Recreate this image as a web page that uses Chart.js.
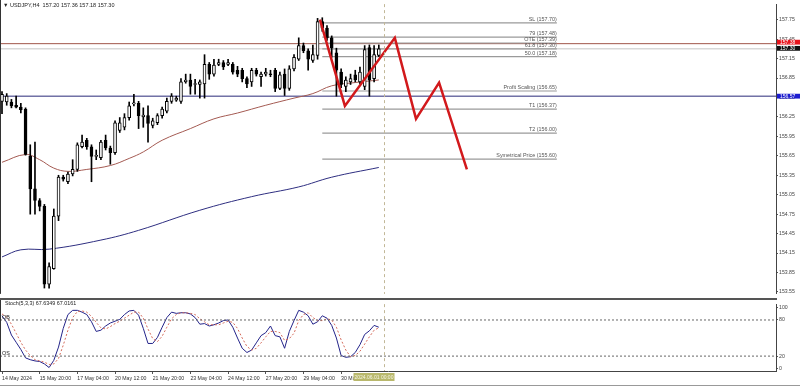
<!DOCTYPE html>
<html>
<head>
<meta charset="utf-8">
<script src="https://cdn.jsdelivr.net/npm/chart.js@4.4.1/dist/chart.umd.min.js"></script>
<style>
  html, body { margin: 0; padding: 0; background: #fff; }
  #wrap { position: relative; width: 800px; height: 387px; overflow: hidden; background: #fff; }
  #priceBox { position: absolute; left: 0; top: 0; width: 800px; height: 298px; }
  #stochBox { position: absolute; left: 0; top: 300px; width: 800px; height: 85px; }
  #sep { position: absolute; left: 0; top: 298px; width: 777px; height: 2px; background: #555; }
  #tabs { position: absolute; left: 0; top: 385px; width: 800px; height: 1px; background: #999; }
</style>
</head>
<body>
<div id="wrap">
  <div id="priceBox"><canvas id="price"></canvas></div>
  <div id="sep"></div>
  <div id="stochBox"><canvas id="stoch"></canvas></div>
  <div id="tabs"></div>
</div>
<script>
// H4 candles, bar 0 = 14 May 12:00, bar 80 = 31 May 20:00
const opens  = [156.49,156.48,156.48,156.43,156.40,156.37,155.64,155.14,154.96,154.87,153.67,153.91,154.72,155.32,155.25,155.37,155.44,155.79,155.89,155.79,155.64,155.62,155.89,155.77,155.70,156.04,156.09,156.24,156.45,156.46,156.25,156.27,156.12,156.16,156.27,156.34,156.49,156.51,156.49,156.79,156.82,156.75,156.75,156.76,157.06,156.91,157.06,157.09,157.06,157.06,156.97,156.97,156.84,156.79,156.97,156.87,156.91,156.91,156.97,156.69,156.91,156.69,156.99,157.14,157.35,157.27,157.12,157.20,157.72,157.62,157.47,157.24,156.94,156.72,156.79,156.90,156.79,156.72,157.32,156.84,157.20];
const highs  = [156.64,156.61,156.52,156.57,156.46,156.39,155.82,155.86,154.99,154.90,154.00,154.83,155.35,155.35,155.40,155.59,155.85,155.97,155.92,155.82,155.74,155.89,155.97,155.80,156.19,156.24,156.30,156.48,156.60,156.49,156.39,156.42,156.23,156.30,156.40,156.54,156.61,156.57,156.84,156.91,156.91,156.83,156.82,157.21,157.09,157.14,157.14,157.12,157.14,157.09,157.03,157.00,156.87,157.00,157.00,156.94,157.00,156.97,157.00,156.94,156.99,157.04,157.21,157.47,157.39,157.30,157.36,157.77,157.78,157.66,157.50,157.31,156.99,156.87,156.91,156.97,157.02,157.35,157.36,157.35,157.36];
const lows   = [156.30,156.43,156.39,156.39,156.31,155.66,154.75,154.75,154.80,153.61,153.61,153.90,154.65,155.26,155.22,155.34,155.41,155.77,155.75,155.25,155.59,155.59,155.74,155.52,155.67,156.01,156.05,156.20,156.42,156.07,156.09,155.86,156.08,156.13,156.23,156.31,156.46,156.49,156.46,156.77,156.60,156.60,156.54,156.54,156.83,156.88,157.04,156.98,157.04,156.91,156.87,156.79,156.70,156.72,156.88,156.72,156.88,156.87,156.64,156.67,156.58,156.66,156.96,157.12,157.24,156.97,157.09,157.14,157.57,157.43,157.17,156.57,156.70,156.64,156.75,156.79,156.76,156.67,156.57,156.79,157.18];
const closes = [156.60,156.57,156.42,156.40,156.36,155.67,155.14,154.96,154.87,153.67,153.94,154.72,155.32,155.29,155.37,155.44,155.82,155.86,155.79,155.64,155.65,155.86,155.77,155.70,156.16,156.16,156.24,156.42,156.46,156.27,156.28,156.15,156.19,156.27,156.37,156.49,156.57,156.54,156.79,156.82,156.72,156.76,156.79,157.06,156.91,157.05,157.09,157.02,157.09,156.94,156.91,156.84,156.76,156.97,156.91,156.91,156.94,156.90,156.69,156.90,156.69,156.99,157.17,157.35,157.27,157.14,157.21,157.72,157.62,157.47,157.32,156.97,156.75,156.82,156.84,156.82,156.94,157.29,156.82,157.21,157.30];

// moving averages, read at a few bars
const ma1Idx = [0, 5, 8, 11, 14, 18, 23, 27, 30, 34, 40, 45, 50, 56, 62, 66, 70, 75, 80];
const ma1Val = [155.55,155.67,155.59,155.46,155.41,155.44,155.50,155.61,155.71,155.89,156.07,156.22,156.31,156.43,156.54,156.61,156.73,156.78,156.82];
const ma2Idx = [0, 4, 10, 21, 29, 42, 53, 63, 70, 80];
const ma2Val = [154.09,154.20,154.21,154.35,154.50,154.81,155.02,155.17,155.32,155.47];

// stochastic %K and %D
const stochK = [87,76,55,43,31,17,14,12,11,7,1,13,35,66,89,96,96,93,89,77,61,63,70,75,78,81,89,95,96,88,66,41,41,51,68,84,93,91,92,92,90,84,73,74,70,72,75,79,80,68,50,33,26,30,42,54,59,70,54,52,33,61,79,96,93,87,73,77,87,83,71,50,21,18,19,26,39,56,62,71,68];
const stochD = [90,85,73,58,43,30,21,14,12,10,6,7,16,38,63,84,94,95,93,86,76,67,65,69,74,78,83,88,93,93,83,65,49,44,53,68,82,89,92,92,91,89,82,77,72,72,72,75,78,76,66,50,36,30,33,42,52,61,61,59,46,49,58,79,89,92,84,79,79,82,80,68,47,30,19,21,28,40,52,63,67];
const stochLast = ['67.6349', '67.0161'];
const stochLevels = [80, 20];
const stochTicks = [100, 80, 20, 0];

// fibonacci / target levels
const fibNames  = ['SL', '79', 'OTE', '61.8', '50.0', 'Profit Scaling', 'T1', 'T2', 'Symetrical Price'];
const fibPrices = [157.70, 157.48, 157.39, 157.30, 157.18, 156.65, 156.37, 156.00, 155.60];
const fibStart = 68, fibEnd = 117.8;

// projected path
const zigX = [67.5, 72.8, 83.4, 87.9, 92.8, 98.7];
const zigY = [157.75, 156.42, 157.47, 156.22, 156.78, 155.44];

// horizontal price lines
const refPrices = [157.38, 157.30, 156.57];
const refColors = ['#a0564a', '#c4c4c4', '#2a2a78'];
const tagColors = ['#e8141c', '#111111', '#1c1cd0'];

const priceTicks = [157.75,157.45,157.15,156.85,156.55,156.25,155.95,155.65,155.35,155.05,154.75,154.45,154.15,153.85,153.55];
const timeTicks  = [0, 8, 16, 24, 32, 40, 48, 56, 64, 72];
const timeLabels = ['14 May 2024','15 May 20:00','17 May 04:00','20 May 12:00','21 May 20:00','23 May 04:00','24 May 12:00','27 May 20:00','29 May 04:00','30 May 12:00'];
const sepBar = 81, sepLabel = '2024.06.01 00:00';

Chart.defaults.font.family = '"Liberation Sans", Arial, sans-serif';
Chart.defaults.font.size = 5.2;
Chart.defaults.color = '#333';
Chart.defaults.animation = false;

const xMin = -0.425, xMax = 164.33;
const FONT = '5.4px "Liberation Sans", Arial, sans-serif';

function pts(xs, ys) { return xs.map((x, k) => ({ x, y: ys[k] })); }
function line(data, color, width, extra) {
  return Object.assign({ type: 'line', data, borderColor: color, borderWidth: width, pointRadius: 0, fill: false }, extra || {});
}

function vline(chart) {
  const { ctx, chartArea: a, scales: { x } } = chart;
  const px = Math.round(x.getPixelForValue(sepBar)) + 0.5;
  ctx.save();
  ctx.strokeStyle = '#c2b898';
  ctx.lineWidth = 1;
  ctx.setLineDash([3, 3]);
  ctx.beginPath(); ctx.moveTo(px, a.top); ctx.lineTo(px, a.bottom); ctx.stroke();
  ctx.setLineDash([]);
  ctx.strokeStyle = '#333';
  ctx.beginPath(); ctx.moveTo(0.5, 0); ctx.lineTo(0.5, a.bottom); ctx.stroke();
  ctx.restore();
  return px;
}

const idx = opens.map((_, i) => i);
const wicks = idx.map(i => ({ x: i, y: [lows[i], highs[i]] }));
const bodies = idx.map(i => ({ x: i, y: [opens[i], closes[i]] }));
const bodyFill = idx.map(i => closes[i] >= opens[i] ? '#ffffff' : '#000000');

const priceOverlay = {
  id: 'priceOverlay',
  afterDraw(chart) {
    const { ctx, scales: { x, y } } = chart;
    vline(chart);
    ctx.save();
    ctx.font = FONT;
    ctx.fillStyle = '#555';
    ctx.textAlign = 'right';
    ctx.textBaseline = 'bottom';
    const xe = x.getPixelForValue(fibEnd);
    fibNames.forEach((n, k) => {
      ctx.fillText(n + ' (' + fibPrices[k].toFixed(2) + ')', xe, y.getPixelForValue(fibPrices[k]) - 0.5);
    });
    // price tags on the axis
    ctx.font = '5px "Liberation Sans", Arial, sans-serif';
    ctx.textAlign = 'left';
    ctx.textBaseline = 'middle';
    const shift = [-1.5, -0.5, 0];
    refPrices.forEach((p, k) => {
      const py = y.getPixelForValue(p) + shift[k];
      ctx.fillStyle = tagColors[k];
      ctx.fillRect(777, py - 2.4, 23, 4.8);
      ctx.fillStyle = '#fff';
      ctx.fillText(p.toFixed(2), 780, py);
    });
    // title
    ctx.fillStyle = '#222';
    ctx.font = '5.5px "Liberation Sans", Arial, sans-serif';
    ctx.fillText('\u25BC USDJPY,H4  ' + [opens[80], highs[80], lows[80], closes[80]].map(v => v.toFixed(2)).join(' '), 3, 5);
    ctx.restore();
  }
};

new Chart(document.getElementById('price'), {
  type: 'bar',
  data: {
    datasets: [
      ...refPrices.map((p, k) => line([{ x: xMin, y: p }, { x: xMax, y: p }], refColors[k], 1, { order: 8 })),
      ...fibPrices.map(p => line([{ x: fibStart, y: p }, { x: fibEnd, y: p }], '#9a9a9a', 1.2, { order: 7 })),
      line(pts(ma1Idx, ma1Val), '#a45a52', 1, { tension: 0.4, order: 6 }),
      line(pts(ma2Idx, ma2Val), '#2e2e80', 1, { tension: 0.4, order: 6 }),
      { type: 'bar', data: wicks, backgroundColor: '#000', barThickness: 1, grouped: false, order: 3 },
      { type: 'bar', data: bodies, backgroundColor: bodyFill, borderColor: '#000', borderWidth: 1, borderSkipped: false,
        barThickness: 3, minBarLength: 1, grouped: false, order: 2 },
      line(pts(zigX, zigY), '#d2191c', 2.5, { order: 0 })
    ]
  },
  options: {
    responsive: true,
    maintainAspectRatio: false,
    events: [],
    layout: { padding: 0 },
    plugins: { legend: { display: false }, tooltip: { enabled: false } },
    scales: {
      x: { type: 'linear', display: false, min: xMin, max: xMax, offset: false },
      y: {
        position: 'right', min: 153.52, max: 157.99, bounds: 'data',
        afterBuildTicks: s => { s.ticks = priceTicks.map(v => ({ value: v })); },
        afterFit: s => { s.width = 24; },
        ticks: { callback: v => v.toFixed(2), padding: 1, color: '#444' },
        grid: { drawOnChartArea: false, tickLength: 2, tickColor: '#555' },
        border: { display: true, color: '#444', width: 1 }
      }
    }
  },
  plugins: [priceOverlay]
});

const stochOverlay = {
  id: 'stochOverlay',
  afterDraw(chart) {
    const { ctx, chartArea: a, scales: { y } } = chart;
    const px = vline(chart);
    ctx.save();
    ctx.font = FONT;
    ctx.fillStyle = '#222';
    ctx.textAlign = 'left';
    ctx.textBaseline = 'middle';
    ctx.fillText('Stoch(5,3,3) ' + stochLast.join(' '), 5, 4);
    ctx.fillText('OB', 2, y.getPixelForValue(stochLevels[0]) - 2.5);
    ctx.fillText('OS', 2, y.getPixelForValue(stochLevels[1]) - 2.5);
    // bottom time tag of the vertical line
    ctx.fillStyle = '#b9b86c';
    ctx.fillRect(px - 31, a.bottom + 2, 41, 8);
    ctx.fillStyle = '#f4f4e4';
    ctx.font = '5px "Liberation Sans", Arial, sans-serif';
    ctx.fillText(sepLabel, px - 30, a.bottom + 6.5);
    ctx.restore();
  }
};

new Chart(document.getElementById('stoch'), {
  type: 'line',
  data: {
    datasets: [
      ...stochLevels.map(v => line([{ x: xMin, y: v }, { x: xMax, y: v }], '#666', 1, { borderDash: [2, 2] })),
      line(stochD.map((v, i) => ({ x: i, y: v })), '#d46a5a', 1, { borderDash: [2, 2] }),
      line(stochK.map((v, i) => ({ x: i, y: v })), '#24248a', 1)
    ]
  },
  options: {
    responsive: true,
    maintainAspectRatio: false,
    events: [],
    layout: { padding: { top: 1, left: 0, right: 0, bottom: 0 } },
    plugins: { legend: { display: false }, tooltip: { enabled: false } },
    scales: {
      x: {
        type: 'linear', min: xMin, max: xMax, offset: false, bounds: 'data',
        afterBuildTicks: s => { s.ticks = timeTicks.map(v => ({ value: v })); },
        afterFit: s => { s.height = 14; },
        ticks: { autoSkip: false, maxRotation: 0, align: 'start', padding: 1, color: '#333',
          callback: v => timeLabels[timeTicks.indexOf(v)] },
        grid: { drawOnChartArea: false, tickLength: 3, tickColor: '#555' },
        border: { display: true, color: '#444', width: 1 }
      },
      y: {
        position: 'right', min: -4.76, max: 106.35, bounds: 'data',
        afterBuildTicks: s => { s.ticks = stochTicks.map(v => ({ value: v })); },
        afterFit: s => { s.width = 24; },
        ticks: { padding: 1, color: '#444' },
        grid: { drawOnChartArea: false, tickLength: 2, tickColor: '#555' },
        border: { display: true, color: '#444', width: 1 }
      }
    }
  },
  plugins: [stochOverlay]
});
</script>
</body>
</html>
